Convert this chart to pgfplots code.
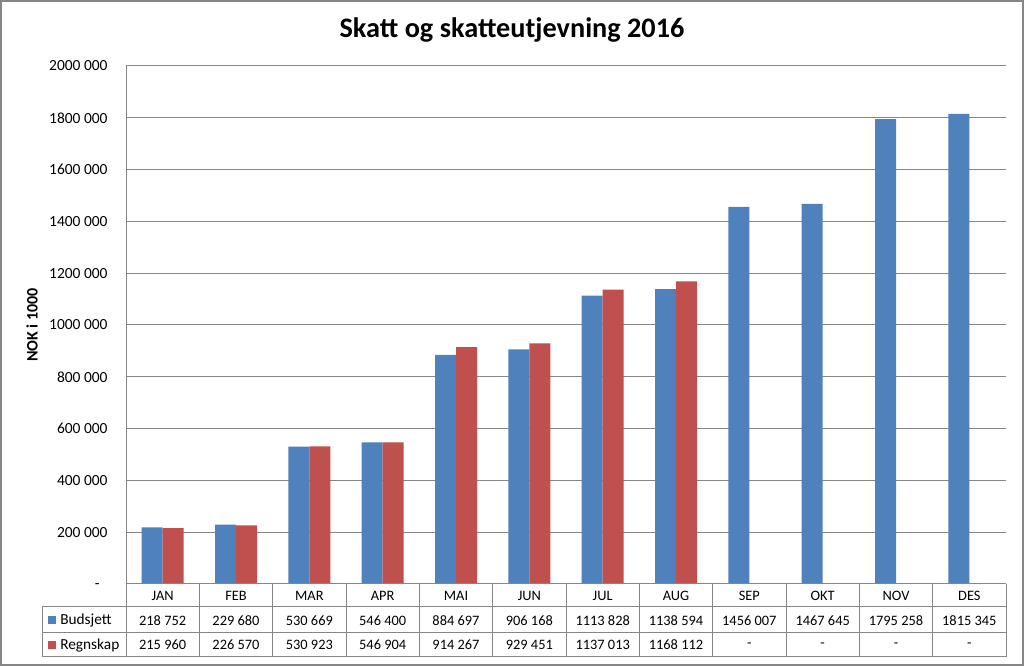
\documentclass[border=0pt]{standalone}
\usepackage{fontspec}
\setmainfont{Carlito}
\usepackage{pgfplots}
\pgfplotsset{compat=1.18}
\definecolor{bud}{HTML}{4F81BD}
\definecolor{reg}{HTML}{C0504D}
\definecolor{gridc}{HTML}{868686}
\begin{document}
\begin{tikzpicture}[x=1pt,y=1pt]
\useasboundingbox (0,0) rectangle (768,499.5);
\fill[white] (0,0) rectangle (768,499.5);
\begin{axis}[at={(94.5pt,61.5pt)}, anchor=south west, scale only axis,
  width=660pt, height=388.5pt,
  xmin=-0.5, xmax=11.5, ymin=0, ymax=2000000,
  ybar=0pt, bar width=15.75pt,
  axis x line*=bottom, axis y line*=left,
  axis line style={gridc, line width=0.75pt},
  xtick=\empty, scaled y ticks=false,
  ytick={0,200000,400000,600000,800000,1000000,1200000,1400000,1600000,1800000,2000000},
  yticklabels={-\phantom{0},200 000,400 000,600 000,800 000,1000 000,1200 000,1400 000,1600 000,1800 000,2000 000},
  major tick length=0pt,
  ymajorgrids, grid style={gridc, line width=0.75pt},
  yticklabel style={font=\fontsize{11.6}{13.5}\selectfont, xshift=-10.3pt},
  clip=false]
\addplot[fill=bud, draw=none] coordinates {(0,218752) (1,229680) (2,530669) (3,546400) (4,884697) (5,906168) (6,1113828) (7,1138594) (8,1456007) (9,1467645) (10,1795258) (11,1815345)};
\addplot[fill=reg, draw=none] coordinates {(0,215960) (1,226570) (2,530923) (3,546904) (4,914267) (5,929451) (6,1137013) (7,1168112)};
\end{axis}
% title and y label
\node[font=\bfseries\fontsize{21.2}{25}\selectfont, anchor=base] at (384,471) {Skatt og skatteutjevning 2016};
\node[font=\bfseries\fontsize{12}{14}\selectfont, rotate=90] at (24,255.75) {NOK i 1000};
% data table
\begin{scope}[gridc, line width=0.75pt]
\draw (94.5,61.5) -- (754.5,61.5);
\draw (31.5,44.625) -- (754.5,44.625);
\draw (31.5,24.75) -- (754.5,24.75);
\draw (31.5,6.75) -- (754.5,6.75);
\draw (31.5,44.625) -- (31.5,6.75);
\foreach \i in {0,...,12} { \draw (94.5+55*\i,61.5) -- (94.5+55*\i,6.75); }
\end{scope}
\begin{scope}[font=\fontsize{10.8}{13}\selectfont]
\foreach \m [count=\i from 0] in {JAN,FEB,MAR,APR,MAI,JUN,JUL,AUG,SEP,OKT,NOV,DES}
  { \node at (122+55*\i,52.7) {\m}; }
\foreach \v [count=\i from 0] in {218 752,229 680,530 669,546 400,884 697,906 168,1113 828,1138 594,1456 007,1467 645,1795 258,1815 345}
  { \node at (122+55*\i,34.3) {\v}; }
\foreach \v [count=\i from 0] in {215 960,226 570,530 923,546 904,914 267,929 451,1137 013,1168 112,-,-,-,-}
  { \node at (122+55*\i,15.75) {\v}; }
\fill[bud] (36,31.3) rectangle (42,37.3);
\fill[reg] (36,12.75) rectangle (42,18.75);
\node[anchor=west, inner sep=0pt, font=\fontsize{11.5}{13}\selectfont] at (45,34.3) {Budsjett};
\node[anchor=west, inner sep=0pt, font=\fontsize{11.5}{13}\selectfont] at (45,15.75) {Regnskap};
\end{scope}
\draw[gridc, line width=1.5pt] (0.75,0.75) rectangle (767.25,498.75);
\end{tikzpicture}
\end{document}
